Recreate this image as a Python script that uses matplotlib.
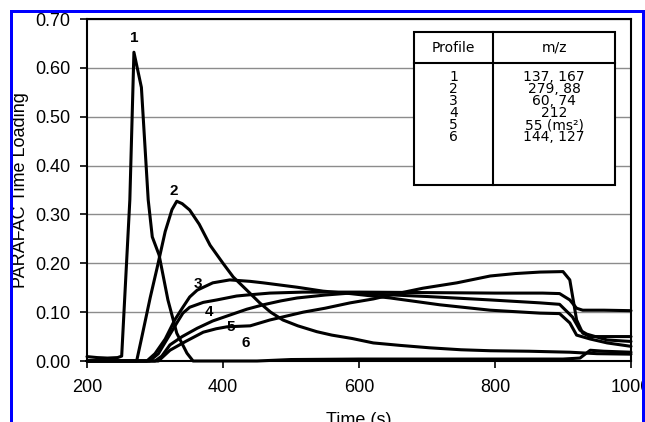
import matplotlib
matplotlib.use("Agg")
import matplotlib.pyplot as plt
from matplotlib.patches import Rectangle
from matplotlib.lines import Line2D

plt.rcParams['font.family'] = ['Liberation Sans', 'DejaVu Sans']

# time loadings, one profile each
p1_t = [200, 215, 230, 245, 251, 263, 269, 280, 290, 296, 306, 319, 332, 347, 356,
        450, 500, 600, 700, 800, 900, 925, 940, 960, 1000]
p1_y = [0.009, 0.007, 0.006, 0.007, 0.01, 0.33, 0.632, 0.56, 0.33, 0.254, 0.217, 0.125,
        0.057, 0.016, 0.0, 0.0, 0.003, 0.004, 0.004, 0.004, 0.004, 0.006, 0.022, 0.02, 0.018]

p2_t = [200, 273, 280, 293, 303, 315, 325, 332, 340, 351, 365, 381, 400, 415, 435, 454,
        470, 488, 510, 538, 560, 590, 621, 660, 704, 750, 793, 850, 910, 950, 1000]
p2_y = [0.0, 0.0, 0.045, 0.13, 0.19, 0.265, 0.31, 0.327, 0.322, 0.309, 0.28, 0.237, 0.2,
        0.172, 0.145, 0.119, 0.1, 0.084, 0.072, 0.06, 0.053, 0.046, 0.037, 0.032, 0.027,
        0.023, 0.021, 0.02, 0.018, 0.015, 0.014]

p3_t = [200, 288, 300, 315, 329, 341, 351, 362, 385, 410, 440, 459, 509, 547, 587, 646,
        719, 793, 866, 895, 910, 920, 940, 965, 1000]
p3_y = [0.0, 0.0, 0.015, 0.045, 0.084, 0.11, 0.131, 0.145, 0.16, 0.166, 0.163, 0.16,
        0.151, 0.143, 0.138, 0.129, 0.115, 0.104, 0.098, 0.097, 0.078, 0.053, 0.045,
        0.037, 0.03]

p4_t = [200, 292, 305, 320, 333, 341, 351, 371, 391, 420, 435, 469, 518, 600, 700, 800,
        870, 895, 910, 920, 929, 960, 1000]
p4_y = [0.0, 0.0, 0.015, 0.05, 0.08, 0.098, 0.11, 0.12, 0.125, 0.133, 0.135, 0.139,
        0.141, 0.141, 0.14, 0.139, 0.139, 0.138, 0.125, 0.108, 0.104, 0.104, 0.103]

p5_t = [200, 300, 310, 322, 340, 362, 385, 410, 435, 459, 485, 509, 550, 587, 620, 700,
        793, 866, 895, 914, 925, 935, 965, 1000]
p5_y = [0.0, 0.0, 0.01, 0.033, 0.05, 0.067, 0.082, 0.094, 0.106, 0.115, 0.123, 0.129,
        0.135, 0.139, 0.137, 0.132, 0.125, 0.119, 0.116, 0.09, 0.063, 0.055, 0.043, 0.04]

p6_t = [200, 305, 322, 345, 371, 390, 406, 440, 469, 518, 550, 587, 621, 646, 694, 744,
        793, 830, 866, 900, 910, 920, 929, 940, 1000]
p6_y = [0.0, 0.0, 0.022, 0.04, 0.059, 0.066, 0.07, 0.072, 0.084, 0.1, 0.108, 0.119,
        0.127, 0.135, 0.149, 0.16, 0.174, 0.179, 0.182, 0.183, 0.166, 0.084, 0.057, 0.05,
        0.05]

profiles = [(p1_t, p1_y), (p2_t, p2_y), (p3_t, p3_y),
            (p4_t, p4_y), (p5_t, p5_y), (p6_t, p6_y)]

# curve number labels (x, y) in data units
label_names = ['1', '2', '3', '4', '5', '6']
label_x = [270, 327, 363, 380, 411, 433]
label_y = [0.662, 0.348, 0.157, 0.100, 0.070, 0.037]

# legend table
table_profiles = ['1', '2', '3', '4', '5', '6']
table_mz = ['137, 167', '279, 88', '60, 74', '212', '55 (ms\u00b2)', '144, 127']

x_ticks = [200, 400, 600, 800, 1000]
y_ticks = [0.0, 0.1, 0.2, 0.3, 0.4, 0.5, 0.6, 0.7]

W, H = 645, 422
fig = plt.figure(figsize=(W / 100, H / 100), dpi=100)
ax = fig.add_axes([87 / W, 1 - 361 / H, (631 - 87) / W, (361 - 19) / H])

for t, y in profiles:
    ax.plot(t, y, color='black', lw=2.2, solid_joinstyle='round',
            solid_capstyle='round', clip_on=False, zorder=3)

for name, lx, ly in zip(label_names, label_x, label_y):
    ax.text(lx, ly, name, fontsize=11, fontweight='bold', ha='center', va='center',
            zorder=4)

ax.set_xlim(200, 1000)
ax.set_ylim(0, 0.7)
ax.set_xticks(x_ticks)
ax.set_yticks(y_ticks)
ax.set_yticklabels(['%.2f' % v for v in y_ticks])
ax.yaxis.grid(True, color='#8c8c8c', lw=1.0)
ax.set_axisbelow(True)
for s in ax.spines.values():
    s.set_linewidth(1.5)
    s.set_color('black')
ax.tick_params(axis='both', direction='out', length=5, width=1.2, labelsize=13)
ax.tick_params(axis='x', pad=8)
ax.tick_params(axis='y', pad=7)

ax.set_xlabel('Time (s)', fontsize=13)
ax.set_ylabel('PARAFAC Time Loading', fontsize=13)
ax.xaxis.set_label_coords(0.5, -0.15)
ax.yaxis.set_label_coords(-0.107, 0.5)

# table box in axes fraction
x0, x1, xm = 0.601, 0.971, 0.746
y0, y1, ym = 0.515, 0.962, 0.871
ax.add_patch(Rectangle((x0, y0), x1 - x0, y1 - y0, transform=ax.transAxes,
                       facecolor='white', edgecolor='black', lw=1.5, zorder=5))
ax.add_line(Line2D([x0, x1], [ym, ym], transform=ax.transAxes, color='black',
                   lw=1.5, zorder=6))
ax.add_line(Line2D([xm, xm], [y0, y1], transform=ax.transAxes, color='black',
                   lw=1.5, zorder=6))
tfont = dict(family='DejaVu Sans', fontsize=10, zorder=7, transform=ax.transAxes)
ax.text((x0 + xm) / 2, (ym + y1) / 2, 'Profile', ha='center', va='center', **tfont)
ax.text((xm + x1) / 2, (ym + y1) / 2, 'm/z', ha='center', va='center', **tfont)
ax.text((x0 + xm) / 2, 0.742, '\n'.join(table_profiles), ha='center', va='center',
        linespacing=0.82, **tfont)
ax.text((xm + x1) / 2, 0.742, '\n'.join(table_mz), ha='center', va='center',
        linespacing=0.82, **tfont)

# cropped-scan frame: white margins and blue border
def px_rect(x, y, w, h, color, z):
    fig.add_artist(Rectangle((x / W, 1 - (y + h) / H), w / W, h / H,
                             transform=fig.transFigure, facecolor=color,
                             edgecolor='none', zorder=z))

px_rect(0, 0, 10, H, 'white', 20)
px_rect(0, 0, W, 10, 'white', 20)
px_rect(10, 10, W - 10, 3, '#0000ff', 21)
px_rect(10, 10, 3, H - 10, '#0000ff', 21)
px_rect(642, 10, 3, H - 10, '#0000ff', 21)

fig.savefig('out.png', dpi=100)
